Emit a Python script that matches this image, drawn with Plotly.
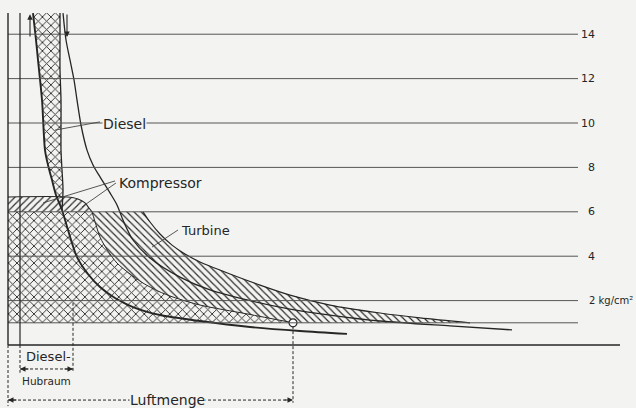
import plotly.graph_objects as go

BG = '#f3f3f1'
INK = '#262626'
GRID = '#555555'
FONT = 'DejaVu Sans'

# ---- pressure scale (kg/cm^2 absolute) ----
p_grid = [2, 4, 6, 8, 10, 12, 14]
p_grid_labels = ['2 kg/cm²', '4', '6', '8', '10', '12', '14']
p_atm = 1.0
p_top = 14.95
p_komp = 6.67          # compressor delivery plateau

# ---- volume scale (arbitrary units) ----
v_axis_end = 612
v_grid_end = 570
v_clear = 12           # diesel clearance volume
v_stroke = 65          # end of diesel stroke (Hubraum)
v_air = 285            # Luftmenge at 1 atm

# Diesel compression line (thick)
dc_v = [25, 28, 30, 34, 37, 40, 44, 48, 54, 60, 69, 80, 92, 107, 125, 152, 192, 242, 292, 339]
dc_p = [14.95, 13.74, 12.84, 11.04, 8.78, 8.11, 7.43, 6.76, 6.08, 5.18, 3.96, 3.20, 2.61, 2.12,
        1.71, 1.35, 1.08, 0.81, 0.63, 0.50]
# right edge of diesel work strip
de_v = [52, 52, 52, 53, 53, 53, 54, 55, 54]
de_p = [14.95, 13.74, 12.39, 11.04, 9.68, 8.78, 7.88, 6.98, 6.08]
# Diesel expansion line
dx_v = [55, 58, 62, 66, 69, 73, 79, 85, 92, 102, 109, 115, 125, 142, 172, 202, 239, 282, 322, 372, 442, 504]
dx_p = [14.95, 13.74, 12.84, 11.94, 11.04, 9.91, 8.78, 8.11, 7.57, 6.85, 6.31, 5.63, 4.73, 3.92,
        3.06, 2.48, 2.03, 1.62, 1.35, 1.08, 0.86, 0.68]
# compressor plateau with rounded corner
kc_v = [0, 59, 70, 77, 81, 84]
kc_p = [6.67, 6.67, 6.58, 6.40, 6.17, 6.0]
# compressor curve (from 6 atm down to the air point)
k_v = [84, 88, 92, 100, 109, 122, 135, 150, 165, 192, 239, 285]
k_p = [6.0, 5.41, 4.86, 4.23, 3.69, 3.20, 2.79, 2.43, 2.16, 1.80, 1.40, 1.0]
# turbine expansion boundary
t_v = [135, 142, 152, 164, 177, 192, 222, 252, 282, 322, 372, 412, 462]
t_p = [6.0, 5.54, 5.0, 4.5, 4.1, 3.74, 3.2, 2.7, 2.25, 1.8, 1.44, 1.22, 1.0]

fig = go.Figure()

def patch(xs, ys, shape, size, sol=0.2):
    fig.add_trace(go.Scatter(
        x=xs, y=ys, mode='lines', fill='toself', line=dict(width=0),
        fillcolor='rgba(0,0,0,0)',
        fillpattern=dict(shape=shape, size=size, solidity=sol, fgcolor='#2a2a2a',
                         bgcolor='rgba(0,0,0,0)', fillmode='replace'),
        hoverinfo='skip', showlegend=False))

# crosshatched base region (below 6 atm, left of compressor curve)
patch([0] + k_v + [0], [6.0] + k_p + [p_atm], 'x', 6, 0.28)
# compressor band
patch(kc_v + [0], kc_p + [6.0], '/', 5, 0.24)
# turbine region
patch([k_v[0]] + t_v + k_v[::-1], [6.0] + t_p + k_p[::-1], '\\', 5, 0.24)
# diesel strip
n = len(de_v)
patch(dc_v[:n] + de_v[::-1], dc_p[:n] + de_p[::-1], 'x', 6, 0.28)

# grid lines
for p in p_grid + [p_atm]:
    fig.add_shape(type='line', x0=0, x1=v_grid_end, y0=p, y1=p,
                  line=dict(color=GRID, width=1))
fig.add_shape(type='line', x0=0, x1=v_axis_end, y0=0, y1=0, line=dict(color=INK, width=1.3))
fig.add_shape(type='line', x0=0, x1=0, y0=0, y1=p_top, line=dict(color=INK, width=1.4))
fig.add_shape(type='line', x0=v_clear, x1=v_clear, y0=0, y1=p_top, line=dict(color=INK, width=1.2))

def curve(xs, ys, w=1.2, shape='spline'):
    fig.add_trace(go.Scatter(x=xs, y=ys, mode='lines',
                             line=dict(color=INK, width=w, shape=shape, smoothing=0.8),
                             hoverinfo='skip', showlegend=False))

curve(kc_v, kc_p, 1.1)
curve(k_v, k_p, 1.0)
curve(t_v, t_p, 1.2)
curve(de_v, de_p, 1.3)
curve(dx_v, dx_p, 1.3)
curve(dc_v, dc_p, 1.9)

# air point
fig.add_trace(go.Scatter(x=[v_air], y=[p_atm], mode='markers',
                         marker=dict(size=8, color='white', line=dict(color=INK, width=1.2)),
                         hoverinfo='skip', showlegend=False))

# dashed dimension lines
dash = dict(color=INK, width=1, dash='3px,2px')
fig.add_shape(type='line', x0=0, x1=0, y0=0, y1=-2.75, line=dash)
fig.add_shape(type='line', x0=v_clear, x1=v_clear, y0=0, y1=-1.25, line=dash)
fig.add_shape(type='line', x0=v_stroke, x1=v_stroke, y0=1.9, y1=-1.25, line=dash)
fig.add_shape(type='line', x0=v_air, x1=v_air, y0=0.85, y1=-2.6, line=dash)
fig.add_shape(type='line', x0=v_clear, x1=v_stroke, y0=-1.08, y1=-1.08, line=dash)
fig.add_shape(type='line', x0=0, x1=v_air, y0=-2.48, y1=-2.48, line=dash)

# leader lines
lead = dict(color='#444', width=0.9)
fig.add_shape(type='line', x0=92, y0=10.05, x1=47, y1=9.68, line=lead)
fig.add_shape(type='line', x0=107, y0=7.39, x1=35, y1=6.40, line=lead)
fig.add_shape(type='line', x0=108, y0=7.30, x1=74, y1=6.22, line=lead)
fig.add_shape(type='line', x0=170, y0=5.18, x1=144, y1=4.41, line=lead)

ann = []
def txt(x, y, s, size=14, xa='left', bg=None):
    d = dict(x=x, y=y, text=s, showarrow=False, xanchor=xa, yanchor='middle',
             font=dict(family=FONT, size=size, color=INK), borderpad=0)
    if bg:
        d['bgcolor'] = bg
    ann.append(d)

txt(94, 9.97, 'Diesel', 14, bg=BG)
txt(110, 7.3, 'Kompressor', 14)
txt(172, 5.18, 'Turbine', 13)
txt(17, -0.5, 'Diesel-', 13)
txt(13, -1.6, 'Hubraum', 10.5)
txt(159, -2.48, 'Luftmenge', 14, xa='center', bg=BG)
for p, lab in zip(p_grid, p_grid_labels):
    if p == 2:
        txt(580, p, lab, 10)
    else:
        txt(588, p, lab, 11, xa='right')

def arrow(x, y, ax, ay, ref='x'):
    d = dict(x=x, y=y, ax=ax, ay=ay, text='', showarrow=True, arrowhead=2,
             arrowsize=1, arrowwidth=1.1, arrowcolor=INK)
    if ref == 'x':
        d.update(axref='x', ayref='y')
    ann.append(d)

arrow(22, 14.9, 22, 13.83)
arrow(59, 13.87, 59, 14.95)
arrow(v_clear, -1.08, 10, 0, ref='px')
arrow(v_stroke, -1.08, -10, 0, ref='px')
arrow(0, -2.48, 10, 0, ref='px')
arrow(v_air, -2.48, -10, 0, ref='px')

fig.update_layout(
    width=636, height=408, autosize=False,
    margin=dict(l=0, r=0, t=0, b=0),
    paper_bgcolor=BG, plot_bgcolor=BG,
    xaxis=dict(range=[-8, 628], visible=False, fixedrange=True),
    yaxis=dict(range=[-2.838, 15.541], visible=False, fixedrange=True),
    annotations=ann, showlegend=False)

page_css = ("document.body.style.margin='0';document.body.style.overflow='hidden';"
            "document.body.style.background='%s';" % BG)
fig.write_html('out.html', post_script=page_css, config={'displayModeBar': False})
